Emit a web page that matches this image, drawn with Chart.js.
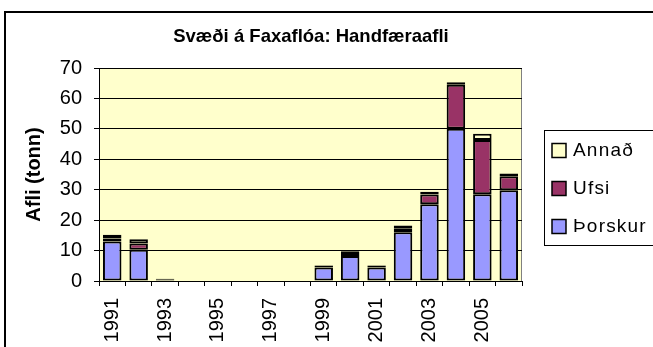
<!DOCTYPE html>
<html>
<head>
<meta charset="utf-8">
<title>Svæði á Faxaflóa: Handfæraafli</title>
<script src="https://cdn.jsdelivr.net/npm/chart.js@4.4.1/dist/chart.umd.min.js"></script>
<style>
  html, body { margin: 0; padding: 0; background: #fff; }
  canvas { display: block; }
</style>
</head>
<body>
<canvas id="afli" width="653" height="347"></canvas>
<script>
// Catch (tonnes) per year, by species
const years = ['1991', '1992', '1993', '1994', '1995', '1996', '1997', '1998',
               '1999', '2000', '2001', '2002', '2003', '2004', '2005', '2006'];
const thorskur = [13, 10.3, 0.4, 0, 0, 0, 0, 0, 4.4, 8.2, 4.4, 16, 25.2, 50, 28.5, 29.8];
const ufsi     = [1, 2, 0.3, 0, 0, 0, 0, 0, 0.6, 1.3, 0.6, 1.2, 3.2, 14.5, 17.8, 4.6];
const annad    = [1.2, 1.4, 0, 0, 0, 0, 0, 0, 0.2, 0.3, 0.2, 1, 0.9, 0.8, 2.1, 0.9];
const yTicks = [0, 10, 20, 30, 40, 50, 60, 70];

const FONT = "'Liberation Sans', Arial, sans-serif";

// plot background, outer frame, title and the boxed legend on the right
const decorations = {
  id: 'decorations',
  beforeDraw( chart ) {
    const { ctx, chartArea: a } = chart;
    ctx.save();
    ctx.fillStyle = '#fff';
    ctx.fillRect( 0, 0, chart.width, chart.height );
    ctx.fillStyle = '#FFFFCC';
    ctx.fillRect( a.left, a.top, a.right - a.left, a.bottom - a.top );
    ctx.strokeStyle = '#808080';
    ctx.lineWidth = 1;
    ctx.beginPath();
    ctx.moveTo( a.left, a.top + 0.5 );
    ctx.lineTo( a.right - 0.5, a.top + 0.5 );
    ctx.lineTo( a.right - 0.5, a.bottom );
    ctx.stroke();
    ctx.strokeStyle = '#000';
    ctx.lineWidth = 2;
    ctx.strokeRect( 5, 12, chart.width + 20, chart.height + 20 );
    ctx.restore();
  },
  afterDraw( chart ) {
    const { ctx } = chart;
    ctx.save();
    ctx.fillStyle = '#000';
    ctx.font = 'bold 18.5px ' + FONT;
    ctx.textAlign = 'center';
    ctx.textBaseline = 'middle';
    ctx.fillText( 'Svæði á Faxaflóa: Handfæraafli', 311, 37 );

    ctx.strokeStyle = '#000';
    ctx.lineWidth = 1;
    ctx.strokeRect( 544.5, 130.5, 140, 115 );
    ctx.font = '19px ' + FONT;
    ctx.textAlign = 'left';
    ctx.letterSpacing = '1.2px';
    const rows = [ 150.5, 188.5, 226.5 ];
    [ 2, 1, 0 ].forEach( ( i, n ) => {
      const ds = chart.data.datasets[i];
      const y = rows[n];
      ctx.fillStyle = ds.backgroundColor;
      ctx.fillRect( 552, y - 7, 14, 14 );
      ctx.lineWidth = 1.5;
      ctx.strokeRect( 552, y - 7, 14, 14 );
      ctx.fillStyle = '#000';
      ctx.fillText( ds.label, 573, y );
    } );
    ctx.restore();
  }
};

const barStyle = {
  borderColor: '#000',
  borderWidth: 2,
  borderSkipped: false,
  barPercentage: 0.7,
  categoryPercentage: 1
};

new Chart( document.getElementById( 'afli' ), {
  type: 'bar',
  data: {
    labels: years,
    datasets: [
      { label: 'Þorskur', data: thorskur, backgroundColor: '#9999FF', ...barStyle },
      { label: 'Ufsi', data: ufsi, backgroundColor: '#993366', ...barStyle },
      { label: 'Annað', data: annad, backgroundColor: '#FFFFCC', ...barStyle }
    ]
  },
  options: {
    responsive: false,
    animation: false,
    devicePixelRatio: 1,
    layout: { padding: { top: 68, right: 131, left: 0, bottom: 0 } },
    plugins: {
      legend: { display: false },
      tooltip: { enabled: false }
    },
    scales: {
      x: {
        stacked: true,
        grid: { offset: true, drawOnChartArea: false, color: '#000', tickLength: 5 },
        border: { color: '#000', width: 1 },
        ticks: {
          autoSkip: false,
          minRotation: 90,
          maxRotation: 90,
          padding: 12,
          color: '#000',
          font: { family: FONT, size: 20 },
          callback( v, i ) { return i % 2 === 0 ? this.getLabelForValue( v ) : ''; }
        },
        afterFit( s ) { s.height = 66; }
      },
      y: {
        stacked: true,
        min: yTicks[0],
        max: yTicks[yTicks.length - 1],
        afterBuildTicks( s ) { s.ticks = yTicks.map( v => ( { value: v } ) ); },
        grid: { color: '#000', tickLength: 5 },
        border: { color: '#000', width: 1 },
        ticks: { padding: 12, color: '#000', font: { family: FONT, size: 20 } },
        title: {
          display: true,
          text: 'Afli (tonn)',
          color: '#000',
          font: { family: FONT, size: 20, weight: 'bold' },
          padding: { top: 22, bottom: 0 }
        },
        afterFit( s ) { s.width = 99; }
      }
    }
  },
  plugins: [ decorations ]
} );
</script>
</body>
</html>
